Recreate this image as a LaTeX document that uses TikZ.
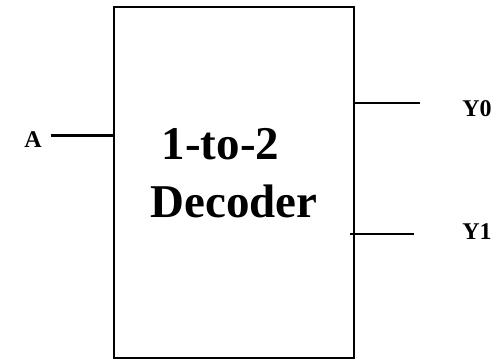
\documentclass[tikz,border=0pt]{standalone}
\usepackage{fontspec}
\setmainfont{Liberation Serif}
\begin{document}
\begin{tikzpicture}[x=1pt,y=-1pt,
  wire/.style={line width=2.3pt},
  lbl/.style={font=\bfseries\fontsize{24}{28}\selectfont, inner sep=0pt},
  big/.style={font=\bfseries\fontsize{47}{56}\selectfont, inner sep=0pt, anchor=base}]
\useasboundingbox (0,0) rectangle (501,359);
\node[draw, line width=2.8pt, minimum width=240pt, minimum height=351pt, inner sep=0pt] (dec) at (234,182.5) {};
\node[big] (t1) at (220.5,159) {1-to-2};
\node[big] (t2) at (234,217) {Decoder};
\node[lbl] (a) at (33,139.5) {A};
\node[lbl] (y0) at (477,108.5) {Y0};
\node[lbl] (y1) at (477,231.5) {Y1};
\coordinate (ain) at (51,135.5);
\coordinate (y0s) at (420,103);
\coordinate (y1s) at (414,234);
\coordinate (y1b) at (350,234);
\draw[wire] (ain) -- (ain -| dec.west);
\draw[wire] (dec.east |- y0s) -- (y0s);
\draw[wire] (y1b) -- (y1s);
\end{tikzpicture}
\end{document}
